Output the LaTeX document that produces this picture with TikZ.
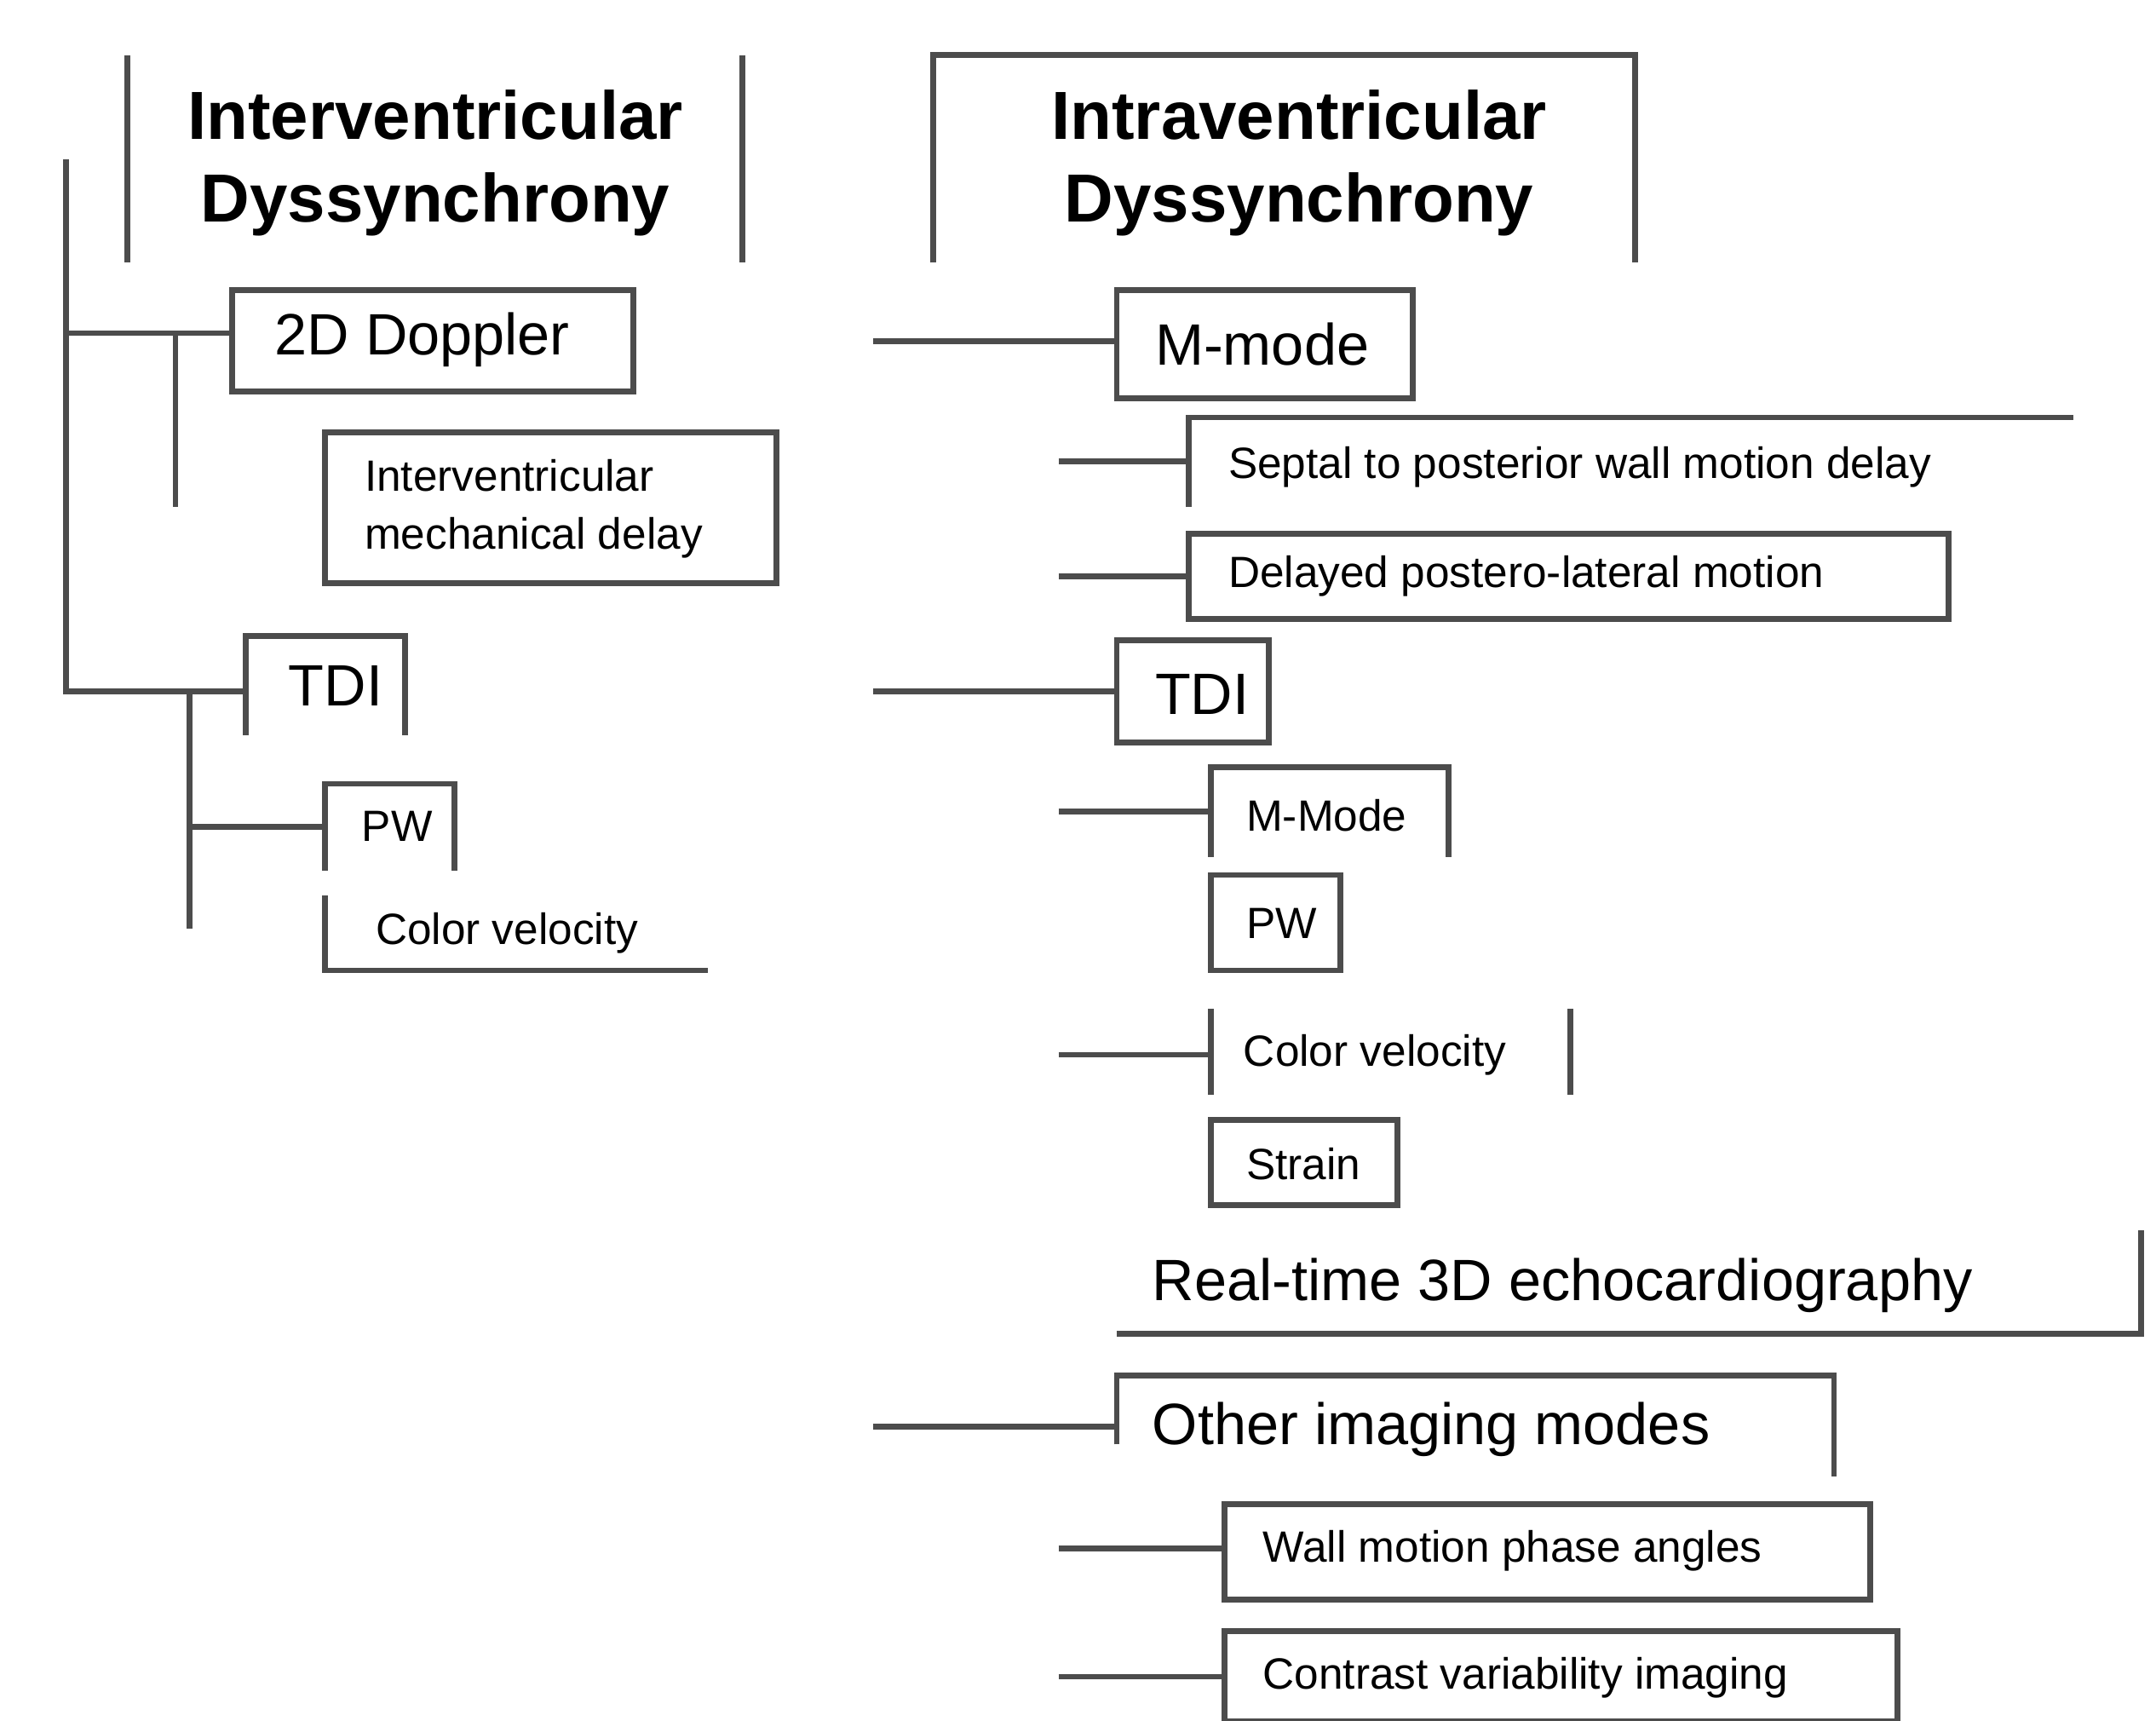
\documentclass[tikz,border=0pt]{standalone}
\usepackage{fontspec}
\setmainfont{Liberation Sans}
\begin{document}
\begin{tikzpicture}[x=0.01cm,y=-0.01cm,line width=1.2pt,draw=black!70,
  big/.style={font=\fontsize{14}{17}\selectfont\bfseries,align=center},
  mid/.style={font=\fontsize{12}{14}\selectfont,anchor=west},
  sml/.style={font=\fontsize{9}{12}\selectfont,anchor=west,align=left},
  e/.style={draw=black!70,line width=1.2pt}]
\useasboundingbox (0,0) rectangle (1560,1245);
% titles
\node[big] (inter) at (315,118) {Interventricular\\Dyssynchrony};
\draw[e] (92,40)--(92,190) (537,40)--(537,190);
\node[big] (intra) at (940,118) {Intraventricular\\Dyssynchrony};
\draw[e] (675,190)--(675,40)--(1183,40)--(1183,190);
% left
\node[mid] (dop) at (185,246) {2D Doppler};
\draw[e] (168,210) rectangle (458,283);
\node[sml] (imd) at (250,368) {Interventricular\\mechanical delay};
\draw[e] (235,313) rectangle (562,422);
\node[mid] (tdil) at (195,496) {TDI};
\draw[e] (178,532)--(178,460)--(293,460)--(293,532);
\node[sml] (pwl) at (248,598) {PW};
\draw[e] (235,630)--(235,567)--(329,567)--(329,630);
\node[sml] (cvl) at (258,675) {Color velocity};
\draw[e] (235,648)--(235,702)--(512,702);
\draw[e] (48,115)--(48,500)--(178,500) (48,241)--(168,241) (127,241)--(127,367)
  (137,500)--(137,672) (137,598)--(235,598);
% right
\node[mid] (mm) at (822,249) {M-mode};
\draw[e] (808,210) rectangle (1022,288);
\draw[e] (632,247)--(808,247);
\node[sml] (sep) at (875,338) {Septal to posterior wall motion delay};
\draw[e] (860,367)--(860,302)--(1500,302);
\draw[e] (766,334)--(860,334);
\node[sml] (dpl) at (875,417) {Delayed postero-lateral motion};
\draw[e] (860,386) rectangle (1410,448);
\draw[e] (766,417)--(860,417);
\node[mid] (tdir) at (822,502) {TDI};
\draw[e] (808,463) rectangle (918,537);
\draw[e] (632,500)--(808,500);
\node[sml] (mm2) at (888,590) {M-Mode};
\draw[e] (876,620)--(876,555)--(1048,555)--(1048,620);
\draw[e] (766,587)--(876,587);
\node[sml] (pwr) at (888,668) {PW};
\draw[e] (876,633) rectangle (970,702);
\node[sml] (cvr) at (886,763) {Color velocity};
\draw[e] (876,730)--(876,792) (1136,730)--(1136,792);
\draw[e] (766,763)--(876,763);
\node[sml] (str) at (888,842) {Strain};
\draw[e] (876,810) rectangle (1011,872);
\node[mid] (rt) at (820,930) {Real-time 3D echocardiography};
\draw[e] (808,965)--(1549,965)--(1549,890);
\node[mid] (oth) at (820,1034) {Other imaging modes};
\draw[e] (808,1045)--(808,995)--(1327,995)--(1327,1068);
\draw[e] (632,1032)--(808,1032);
\node[sml] (wm) at (900,1122) {Wall motion phase angles};
\draw[e] (886,1088) rectangle (1353,1157);
\draw[e] (766,1120)--(886,1120);
\node[sml] (cv) at (900,1214) {Contrast variability imaging};
\draw[e] (886,1180) rectangle (1373,1245);
\draw[e] (766,1213)--(886,1213);
\end{tikzpicture}
\end{document}
